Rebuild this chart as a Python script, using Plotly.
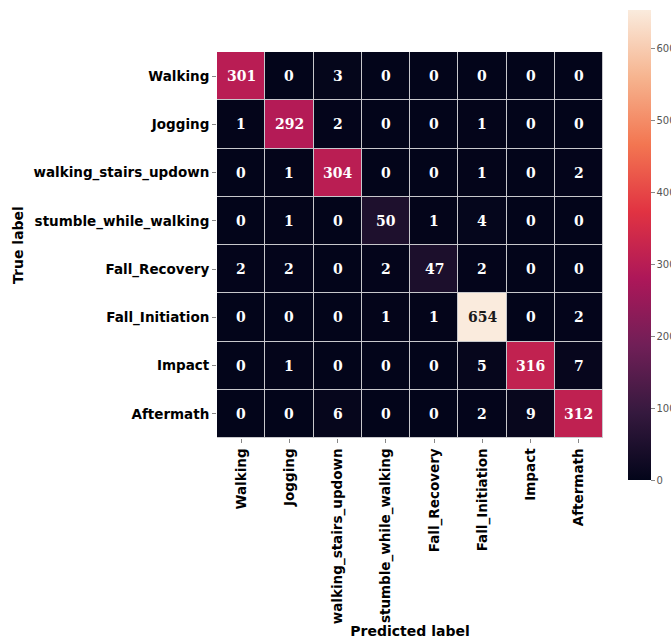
import plotly.graph_objects as go

labels = ["Walking", "Jogging", "walking_stairs_updown", "stumble_while_walking",
          "Fall_Recovery", "Fall_Initiation", "Impact", "Aftermath"]

# rows = true label, columns = predicted label
row_walking = [301, 0, 3, 0, 0, 0, 0, 0]
row_jogging = [1, 292, 2, 0, 0, 1, 0, 0]
row_stairs = [0, 1, 304, 0, 0, 1, 0, 2]
row_stumble = [0, 1, 0, 50, 1, 4, 0, 0]
row_recovery = [2, 2, 0, 2, 47, 2, 0, 0]
row_initiation = [0, 0, 0, 1, 1, 654, 0, 2]
row_impact = [0, 1, 0, 0, 0, 5, 316, 7]
row_aftermath = [0, 0, 6, 0, 0, 2, 9, 312]

cm = [row_walking, row_jogging, row_stairs, row_stumble,
      row_recovery, row_initiation, row_impact, row_aftermath]

cbar_ticks = [0, 100, 200, 300, 400, 500, 600]

rocket = [
    [0.0, "#03051a"],
    [1 / 7, "#35193e"],
    [2 / 7, "#701f57"],
    [3 / 7, "#ad1759"],
    [4 / 7, "#e13342"],
    [5 / 7, "#f37651"],
    [6 / 7, "#f6b48f"],
    [1.0, "#faebdd"],
]

W, H = 671, 642
L, R, T, B = 217, 68, 52, 204
plot_w = W - L - R
plot_h = H - T - B

zmax = max(max(r) for r in cm)

fig = go.Figure(go.Heatmap(
    z=cm, x=labels, y=labels,
    colorscale=rocket, zmin=0, zmax=zmax,
    xgap=1, ygap=1,
    colorbar=dict(
        x=(628 - L) / plot_w, xanchor="left", xpad=0,
        y=(H - B - 10) / plot_h, yanchor="top", ypad=0,
        thickness=23, thicknessmode="pixels",
        len=470, lenmode="pixels",
        outlinewidth=0,
        tickvals=cbar_ticks,
        ticks="outside", ticklen=4, tickcolor="#888888",
        tickfont=dict(family="DejaVu Sans", size=10, color="#555555"),
    ),
    hoverinfo="skip",
))

for i, row in enumerate(cm):
    for j, v in enumerate(row):
        fig.add_annotation(
            x=labels[j], y=labels[i], text=f"<b>{v}</b>", showarrow=False,
            font=dict(family="DejaVu Serif", size=14,
                      color="#1a1a1a" if v > 0.75 * zmax else "white"),
        )

fig.update_layout(
    width=W, height=H,
    margin=dict(l=L, r=R, t=T, b=B, autoexpand=False),
    paper_bgcolor="white",
    plot_bgcolor="#c8c8cc",
    font=dict(family="DejaVu Sans", color="black"),
)

fig.update_xaxes(
    tickangle=-90,
    tickfont=dict(family="DejaVu Sans", size=13.5, color="black", weight="bold"),
    ticks="outside", ticklen=4, tickcolor="#888888",
    title=dict(text="<b>Predicted label</b>", font=dict(size=14), standoff=2),
    showgrid=False, zeroline=False,
)
fig.update_yaxes(
    autorange="reversed",
    tickfont=dict(family="DejaVu Sans", size=13.5, color="black", weight="bold"),
    ticks="outside", ticklen=4, tickcolor="#888888",
    title=dict(text="<b>True label</b>", font=dict(size=14), standoff=6),
    showgrid=False, zeroline=False,
)

fig.write_html("out.html")
